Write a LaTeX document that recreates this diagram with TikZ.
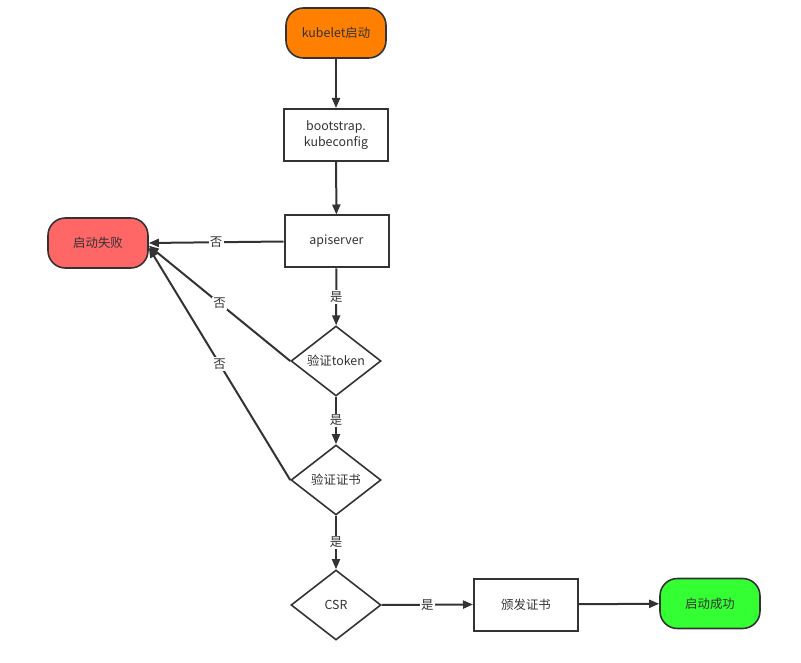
\documentclass[tikz,border=0pt]{standalone}
\usepackage{fontspec}
\setmainfont{Noto Sans CJK SC}
\usetikzlibrary{arrows.meta,shapes.geometric}
\definecolor{linegray}{HTML}{333333}
\definecolor{startorange}{HTML}{FF8000}
\definecolor{failred}{HTML}{FF6666}
\definecolor{okgreen}{HTML}{33FF33}
\tikzset{
  every node/.style={text=linegray,font=\fontsize{9.3}{11.5}\selectfont},
  box/.style={draw=linegray,line width=1.5pt,minimum width=78pt,minimum height=39pt,align=center},
  term/.style={draw=linegray,line width=1.2pt,rounded corners=13pt,minimum width=75pt,minimum height=37.5pt},
  check/.style={diamond,draw=linegray,line width=1.2pt,inner sep=0pt,aspect=1.3,minimum width=67.5pt,minimum height=52.5pt},
  flow/.style={draw=linegray,line width=1.5pt,-{Triangle[length=7.5pt,width=6pt]}},
  tag/.style={fill=white,inner sep=1pt,pos=0.5}
}
\begin{document}
\begin{tikzpicture}[x=0.75pt,y=-0.75pt]
  \useasboundingbox (0,0) rectangle (801,663);
  \node[term,fill=startorange](start)at(336,33){kubelet启动};
  \node[box](boot)at(336,135){bootstrap.\\kubeconfig};
  \node[box](api)at(336.5,241.5){apiserver};
  \node[term,fill=failred](fail)at(98,243){启动失败};
  \node[check](tok)at(336,361){验证token};
  \node[check](cert)at(336,480){验证证书};
  \node[check](csr)at(336,605){CSR};
  \node[box](issue)at(526,604.5){颁发证书};
  \node[term,fill=okgreen](ok)at(710,603.5){启动成功};
  % main line
  \draw[flow](start)--(boot);
  \draw[flow](boot)--(api);
  \draw[flow](api)--(tok)node[tag]{是};
  \draw[flow](tok)--(cert)node[tag]{是};
  \draw[flow](cert)--(csr)node[tag]{是};
  \draw[flow](csr.east)--(issue.west)node[tag]{是};
  \draw[flow](issue)--(ok);
  % failures
  \draw[flow](api.west)--(fail.east)node[tag]{否};
  \draw[flow](tok.west)--([yshift=-2pt]fail.east)node[tag]{否};
  \draw[flow](cert.west)--([yshift=-3.5pt]fail.east)node[tag]{否};
\end{tikzpicture}
\end{document}
